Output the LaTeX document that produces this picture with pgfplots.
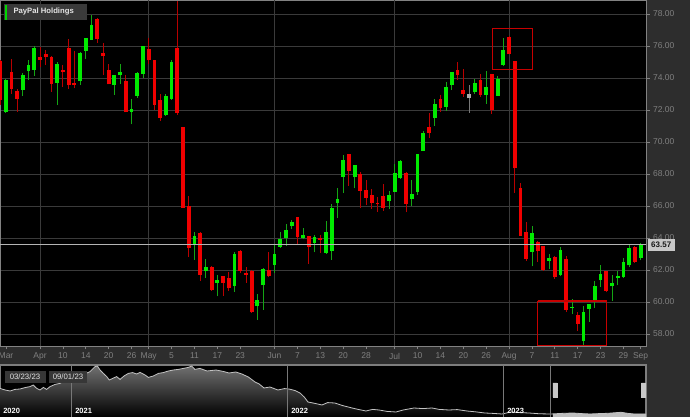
\documentclass[border=0pt]{standalone}
\usepackage{pgfplots}
\pgfplotsset{compat=1.18}
\usepackage{pgfplotstable}
\usepackage{fontspec}
\setmainfont{Liberation Sans}

\definecolor{bgc}{RGB}{45,45,45}
\definecolor{gridc}{RGB}{58,58,58}
\definecolor{framec}{RGB}{130,130,130}
\definecolor{labelc}{RGB}{128,128,128}
\definecolor{lastline}{RGB}{180,180,180}
\definecolor{boxc}{RGB}{200,200,200}
\definecolor{boxtext}{RGB}{25,25,25}
\definecolor{titlebg}{RGB}{58,58,58}
\definecolor{titletext}{RGB}{230,230,230}
\definecolor{titlebar}{RGB}{0,215,0}
\definecolor{gbody}{RGB}{0,235,0}
\definecolor{gwick}{RGB}{20,165,20}
\definecolor{rbody}{RGB}{240,0,0}
\definecolor{rwick}{RGB}{185,0,0}
\definecolor{nbody}{RGB}{170,170,170}
\definecolor{nwick}{RGB}{120,120,120}
\definecolor{rectred}{RGB}{200,0,0}
\definecolor{navtop}{RGB}{112,112,112}
\definecolor{navcurve}{RGB}{195,195,195}
\definecolor{yearline}{RGB}{120,120,120}
\definecolor{handlec}{RGB}{200,200,200}
\definecolor{selc}{RGB}{190,190,190}
\definecolor{datebox}{RGB}{55,55,55}
\definecolor{datetext}{RGB}{225,225,225}
\definecolor{navframe}{RGB}{125,125,125}

% up candles: index open high low close
\pgfplotstableread{
i o h l c
1 71.9 73.95 71.8 73.9
4 73.25 74.3 72.9 74.2
5 74.45 75.1 73.9 74.8
6 74.5 76.0 74.15 75.9
10 73.7 75.0 72.3 74.9
14 73.8 75.6 73.55 75.55
15 75.7 76.5 75.2 76.5
16 76.4 77.95 76.4 77.3
20 73.55 74.2 72.95 74.2
21 74.2 74.85 73.65 74.35
23 71.9 72.7 71.1 72.05
24 72.9 74.4 72.75 74.3
25 74.25 76.0 74.0 76.0
29 71.7 73.0 71.65 72.9
30 72.7 75.1 72.65 75.0
34 63.55 64.35 62.65 64.1
36 61.95 62.7 61.5 62.2
38 61.2 61.7 60.35 61.4
41 61.0 63.1 60.65 63.0
45 59.75 60.5 58.9 60.15
46 61.05 62.15 59.5 62.05
48 62.3 63.6 61.8 63.0
49 63.45 64.35 63.4 63.95
50 64.0 64.9 63.5 64.5
51 64.75 65.15 64.55 65.0
53 64.0 64.6 63.95 64.2
55 63.7 64.2 63.1 64.05
57 63.05 65.05 63.0 64.35
58 63.2 66.15 62.65 65.85
59 66.2 67.15 65.25 66.45
60 67.8 69.2 66.8 68.9
62 67.8 68.55 67.1 68.55
68 66.3 66.95 65.8 66.7
69 66.9 68.6 66.9 68.05
70 67.77 68.85 67.7 68.81
72 66.45 67.6 66.0 66.76
73 66.9 69.27 66.7 69.27
74 69.44 70.69 69.44 70.59
76 71.49 72.7 71.0 72.36
78 72.2 73.72 71.95 73.45
79 73.55 74.35 73.24 74.35
83 73.1 73.93 73.0 73.66
85 72.95 74.45 72.4 73.41
87 72.89 74.14 72.89 73.93
88 74.8 76.5 74.75 75.77
93 63.13 64.74 62.23 64.32
96 62.58 63.02 62.08 62.75
98 61.71 63.44 61.6 63.23
100 59.62 60.18 59.24 59.7
102 57.57 59.78 57.32 59.4
103 59.57 59.9 58.78 59.87
104 59.99 61.29 59.61 60.97
105 61.35 62.33 60.93 61.75
107 60.97 61.66 60.07 61.18
108 61.5 61.92 61.04 61.6
109 61.54 62.75 61.5 62.5
110 62.29 63.54 62.17 63.38
112 62.75 63.7 62.6 63.57
}\greentab

% down candles
\pgfplotstableread{
i o h l c
0 75.05 75.1 72.3 72.6
2 74.4 75.2 73.0 73.3
3 73.2 73.3 71.9 72.7
7 75.3 75.95 74.7 75.15
8 75.5 75.75 74.8 75.3
9 75.3 75.35 73.15 73.65
11 74.5 74.8 73.45 74.4
12 75.9 76.45 73.3 73.55
13 73.7 75.7 73.35 73.55
17 77.7 77.75 76.2 76.45
18 75.55 76.2 74.2 75.35
19 74.5 74.9 73.6 73.6
22 73.8 74.2 71.85 71.85
26 75.8 76.5 74.9 75.1
27 75.1 75.1 72.0 72.3
28 72.6 73.0 71.3 71.5
31 75.9 78.8 71.7 71.8
32 70.95 70.95 65.9 65.9
33 66.0 66.6 62.8 63.4
35 64.3 64.4 61.3 61.7
37 62.2 62.25 60.7 60.75
39 61.6 61.65 60.4 61.2
40 61.5 61.9 60.7 60.85
42 63.2 63.25 61.8 61.95
43 61.8 62.2 61.2 61.7
44 61.95 62.0 59.3 59.35
47 62.0 63.15 61.55 61.6
52 65.3 65.3 63.55 64.05
54 64.1 64.15 62.4 63.45
56 64.0 64.2 63.05 63.9
61 69.25 69.25 67.25 68.2
63 68.0 68.15 65.85 66.95
64 67.0 67.6 66.05 66.5
65 66.7 67.05 65.8 66.2
66 66.2 66.55 65.65 66.1
67 66.65 67.35 65.7 65.9
71 68.04 68.1 65.6 66.14
75 70.94 71.84 70.27 70.59
77 72.68 72.95 71.9 72.1
80 74.52 74.98 73.9 74.2
81 73.28 74.56 72.82 73.03
84 73.87 74.24 72.8 72.95
86 74.24 74.24 71.78 71.99
89 76.54 76.65 75.5 75.5
90 75.04 75.04 66.83 68.35
91 67.14 67.45 64.15 64.15
92 64.38 64.99 62.58 62.71
94 63.75 63.8 62.5 63.17
95 63.48 63.5 61.95 62.02
97 62.81 62.85 61.45 61.54
99 62.71 62.9 59.36 59.49
101 59.16 59.36 58.19 58.61
106 61.96 61.96 60.6 60.7
111 63.44 63.5 62.45 62.5
}\redtab

% unchanged-colour candle
\pgfplotstableread{
i o h l c
82 72.99 73.58 71.84 72.72
}\graytab

% navigator: months since Sep 2020, price
\pgfplotstableread{
m p
0 193
0.28 185
0.56 180
0.83 188
1.11 190
1.39 197
1.67 202
1.85 210
2.04 193
2.22 185
2.41 198
2.59 188
2.78 202
3.06 213
3.33 218
3.61 232
3.80 243
3.98 252
4.17 260
4.44 268
4.72 265
5.0 277
5.28 302
5.41 305
5.56 285
5.74 268
5.93 252
6.07 235
6.26 243
6.48 252
6.67 238
6.89 255
7.13 268
7.37 272
7.59 265
7.78 273
8.06 260
8.24 248
8.52 255
8.80 268
9.07 272
9.35 280
9.63 285
9.91 288
10.19 293
10.46 298
10.65 305
10.83 288
11.11 293
11.5 280
12.0 285
12.4 278
12.72 270
13.1 275
13.44 265
13.8 250
14.17 225
14.4 215
14.67 195
15.0 200
15.44 185
15.8 192
16.06 190
16.4 182
16.67 170
16.9 150
17.11 125
17.5 118
17.89 110
18.2 122
18.61 120
19.0 108
19.56 95
19.9 88
20.33 80
20.7 88
21.06 85
21.5 78
22.0 75
22.4 85
23.0 95
23.5 92
24.0 95
24.4 88
24.94 85
25.4 87
25.94 80
26.4 76
26.94 70
27.4 68
27.89 65
28.39 75
28.9 72
29.39 70
30.0 66
30.61 65
31.2 68
31.83 70
32.3 67
32.78 65
33.3 67
33.78 68.5
34.5 73.5
34.9 68
35.22 65
35.89 65
}\navtab

\pgfplotstableread{
m p
30.72 65
31.2 68
31.83 70
32.3 67
32.78 65
33.3 67
33.78 68.5
34.5 73.5
34.9 68
35.22 65
35.89 65
}\seltab

\begin{document}
\begin{tikzpicture}
\fill[bgc] (0,0) rectangle (690pt,417pt);
\useasboundingbox (0,0) rectangle (690pt,417pt);

\begin{axis}[
  at={(0pt,71pt)}, anchor=south west,
  scale only axis, width=646pt, height=346pt,
  xmin=0, xmax=112.94, ymin=57.25, ymax=78.875,
  axis background/.style={fill=black},
  axis line style={draw=framec, line width=0.8pt},
  ytick={58,60,...,78},
  yticklabel pos=right, ytick pos=right, xtick pos=bottom,
  ymajorgrids,
  major grid style={draw=gridc, line width=0.9pt},
  tick style={draw=framec, line width=0.8pt},
  tick align=outside, major tick length=3.5pt,
  xtick={1.05,7,11,15,19,23,26,30,34,38,42,48,52,56,60,64,69,73,77,81,85,89,93,97,101,105,109,112},
  xticklabels={Mar,Apr,10,14,20,26,May,5,11,17,23,Jun,7,13,20,28,Jul,10,14,20,26,Aug,7,11,17,23,29,Sep},
  extra x ticks={7,26,48,69,89},
  extra x tick labels={},
  extra x tick style={grid=major, major tick length=0pt},
  tick label style={font=\fontsize{8.5}{10}\selectfont, text=labelc},
  yticklabel style={/pgf/number format/.cd, fixed, fixed zerofill, precision=2, assume math mode=true},
  clip=true,
]
% wicks
\addplot[draw=none, mark=none, forget plot,
  error bars/.cd, y dir=plus, y explicit, error mark=none,
  error bar style={draw=gwick, line width=0.9pt}]
  table[x=i, y=l, y error plus expr=\thisrow{h}-\thisrow{l}] {\greentab};
\addplot[draw=none, mark=none, forget plot,
  error bars/.cd, y dir=plus, y explicit, error mark=none,
  error bar style={draw=rwick, line width=0.9pt}]
  table[x=i, y=l, y error plus expr=\thisrow{h}-\thisrow{l}] {\redtab};
\addplot[draw=none, mark=none, forget plot,
  error bars/.cd, y dir=plus, y explicit, error mark=none,
  error bar style={draw=nwick, line width=0.9pt}]
  table[x=i, y=l, y error plus expr=\thisrow{h}-\thisrow{l}] {\graytab};
% bodies
\addplot[draw=none, mark=none, forget plot,
  error bars/.cd, y dir=plus, y explicit, error mark=none,
  error bar style={draw=gbody, line width=3.8pt}]
  table[x=i, y=o, y error plus expr=\thisrow{c}-\thisrow{o}] {\greentab};
\addplot[draw=none, mark=none, forget plot,
  error bars/.cd, y dir=plus, y explicit, error mark=none,
  error bar style={draw=rbody, line width=3.8pt}]
  table[x=i, y=c, y error plus expr=\thisrow{o}-\thisrow{c}] {\redtab};
\addplot[draw=none, mark=none, forget plot,
  error bars/.cd, y dir=plus, y explicit, error mark=none,
  error bar style={draw=nbody, line width=3.8pt}]
  table[x=i, y=c, y error plus expr=\thisrow{o}-\thisrow{c}] {\graytab};
% last price line
\addplot[draw=lastline, line width=1.2pt, mark=none] coordinates {(0,63.57) (112.94,63.57)};
% highlight rectangles
\addplot[draw=rectred, line width=1.1pt, mark=none] coordinates {(86.07,77.1) (93.1,77.1) (93.1,74.54) (86.07,74.54) (86.07,77.1)};
\addplot[draw=rectred, line width=1.1pt, mark=none] coordinates {(94.0,60.06) (106.06,60.06) (106.06,57.28) (94.0,57.28) (94.0,60.06)};
\coordinate (lastp) at (axis cs:112.94,63.57);
\end{axis}

\node[fill=boxc, text=boxtext, font=\bfseries\fontsize{8}{9}\selectfont,
  inner xsep=3.5pt, inner ysep=0pt, minimum height=11.5pt, anchor=west]
  at ([xshift=1.5pt]lastp) {63.57};

% title box
\fill[titlebg] (3.5pt,397pt) rectangle (87pt,413pt);
\fill[titlebar] (4.7pt,396.5pt) rectangle (6.8pt,412pt);
\node[anchor=west, text=titletext, font=\bfseries\fontsize{7.7}{9}\selectfont, inner sep=0pt]
  at (13.3pt,405pt) {PayPal Holdings};

% navigator
\begin{axis}[
  at={(0pt,0pt)}, anchor=south west,
  scale only axis, width=646pt, height=52pt,
  xmin=0, xmax=35.89, ymin=50, ymax=310,
  axis background/.style={fill=black},
  axis line style={draw=navframe, line width=1.1pt},
  xtick=\empty, ytick=\empty,
  clip=true,
]
\addplot[draw=none, top color=navtop, bottom color=black, forget plot] table[x=m, y=p] {\navtab} -- (axis cs:35.89,50) -- (axis cs:0,50) -- cycle;
\addplot[draw=none, fill=selc, forget plot] table[x=m, y=p] {\seltab} -- (axis cs:35.89,50) -- (axis cs:30.72,50) -- cycle;
\addplot[draw=navcurve, line width=0.8pt, mark=none] table[x=m, y=p] {\navtab};
\addplot[draw=yearline, line width=1pt, mark=none] coordinates {(4,50) (4,310)};
\addplot[draw=yearline, line width=1pt, mark=none] coordinates {(16,50) (16,310)};
\addplot[draw=yearline, line width=1pt, mark=none] coordinates {(28,50) (28,310)};
\addplot[draw=yearline, line width=1pt, mark=none] coordinates {(30.61,50) (30.61,310)};
\addplot[fill=handlec, draw=handlec, mark=none] coordinates {(30.72,150) (30.94,150) (30.94,220) (30.72,220) (30.72,150)};
\addplot[fill=handlec, draw=handlec, mark=none] coordinates {(35.63,150) (35.85,150) (35.85,220) (35.63,220) (35.63,150)};
\node[anchor=south west, inner sep=0pt, text=white, font=\bfseries\fontsize{7.5}{8}\selectfont] at (axis cs:0.17,65) {2020};
\node[anchor=south west, inner sep=0pt, text=white, font=\bfseries\fontsize{7.5}{8}\selectfont] at (axis cs:4.17,65) {2021};
\node[anchor=south west, inner sep=0pt, text=white, font=\bfseries\fontsize{7.5}{8}\selectfont] at (axis cs:16.17,65) {2022};
\node[anchor=south west, inner sep=0pt, text=white, font=\bfseries\fontsize{7.5}{8}\selectfont] at (axis cs:28.17,65) {2023};
\end{axis}

\node[fill=datebox, text=datetext, font=\fontsize{7.8}{9}\selectfont, minimum width=41pt, minimum height=12pt, inner sep=0pt]
  at (25pt,40pt) {03/23/23};
\node[fill=datebox, text=datetext, font=\fontsize{7.8}{9}\selectfont, minimum width=38pt, minimum height=12pt, inner sep=0pt]
  at (68pt,40pt) {09/01/23};
\end{tikzpicture}
\end{document}
